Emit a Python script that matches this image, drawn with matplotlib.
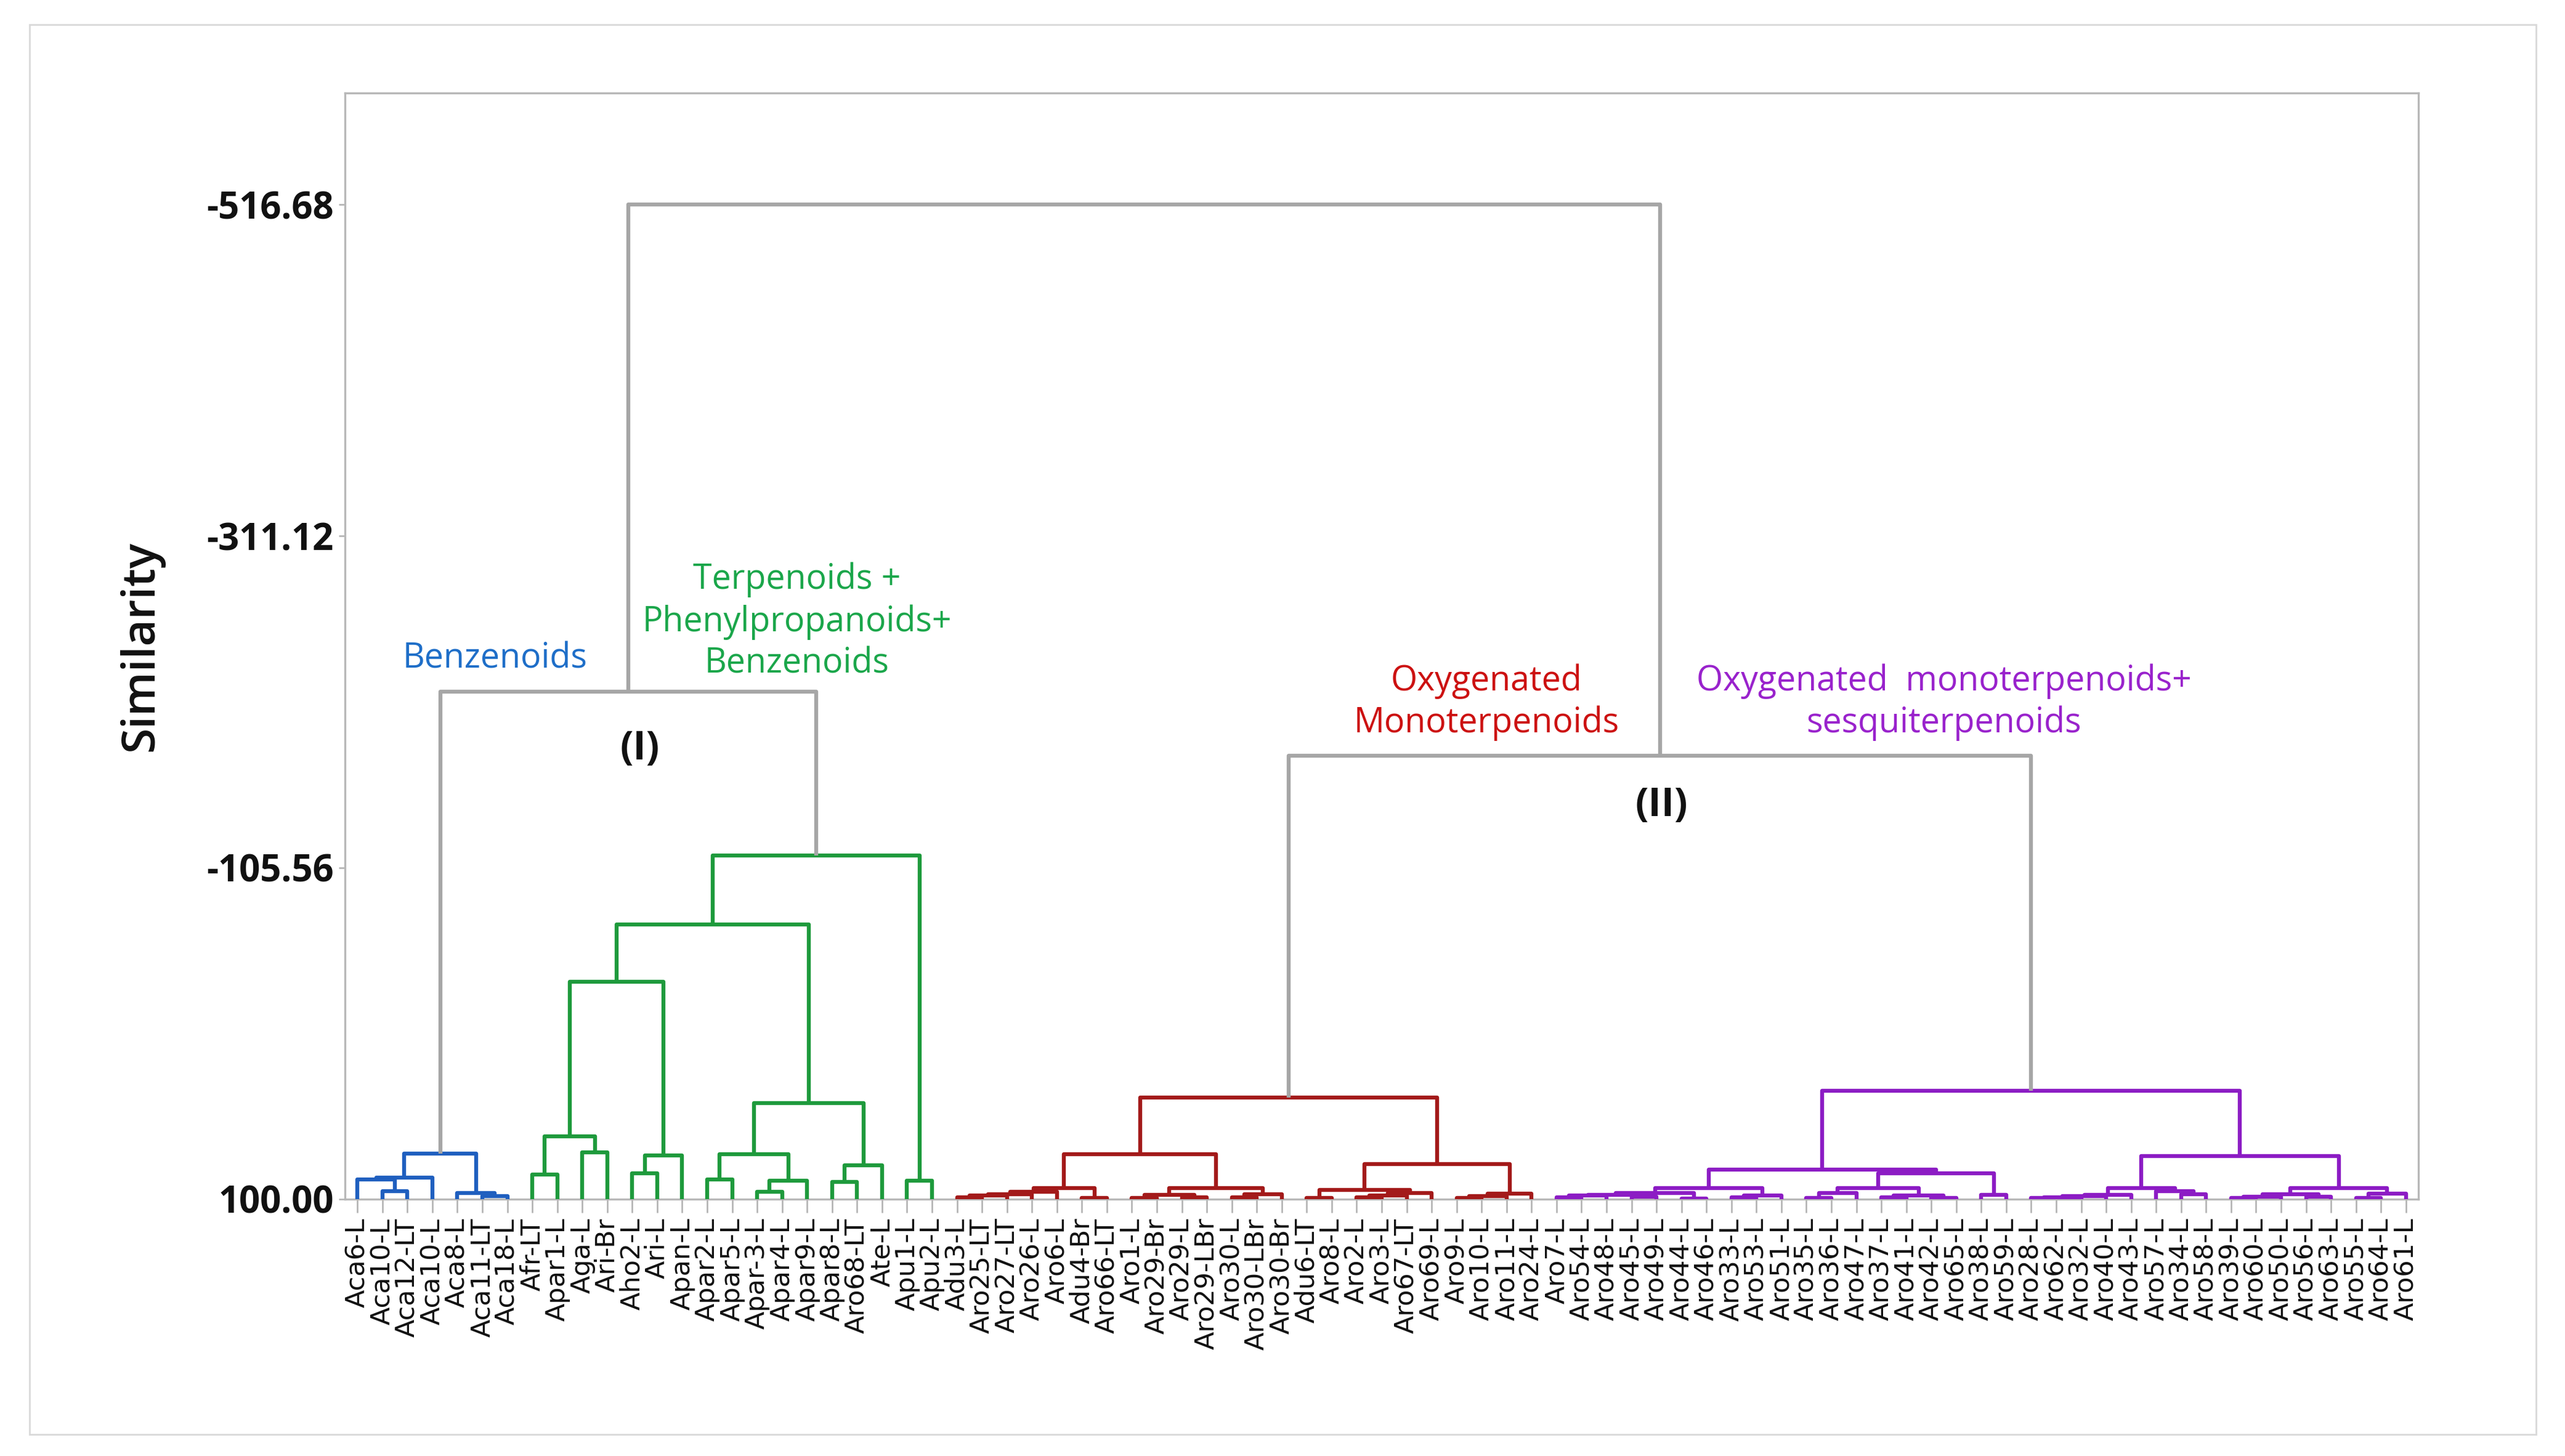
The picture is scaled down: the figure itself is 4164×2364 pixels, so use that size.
import matplotlib
matplotlib.use("Agg")
import matplotlib.pyplot as plt
from matplotlib.patches import Rectangle

# ---------------- data ----------------
leaf_labels = [
    "Aca6-L", "Aca10-L", "Aca12-LT", "Aca10-L", "Aca8-L", "Aca11-LT", "Aca18-L",
    "Afr-LT", "Apar1-L", "Aga-L", "Ari-Br", "Aho2-L", "Ari-L", "Apan-L", "Apar2-L",
    "Apar5-L", "Apar-3-L", "Apar4-L", "Apar9-L", "Apar8-L", "Aro68-LT", "Ate-L",
    "Apu1-L", "Apu2-L",
    "Adu3-L", "Aro25-LT", "Aro27-LT", "Aro26-L", "Aro6-L", "Adu4-Br", "Aro66-LT",
    "Aro1-L", "Aro29-Br", "Aro29-L", "Aro29-LBr", "Aro30-L", "Aro30-LBr", "Aro30-Br",
    "Adu6-LT", "Aro8-L", "Aro2-L", "Aro3-L", "Aro67-LT", "Aro69-L", "Aro9-L",
    "Aro10-L", "Aro11-L", "Aro24-L",
    "Aro7-L", "Aro54-L", "Aro48-L", "Aro45-L", "Aro49-L", "Aro44-L", "Aro46-L",
    "Aro33-L", "Aro53-L", "Aro51-L", "Aro35-L", "Aro36-L", "Aro47-L", "Aro37-L",
    "Aro41-L", "Aro42-L", "Aro65-L", "Aro38-L", "Aro59-L", "Aro28-L", "Aro62-L",
    "Aro32-L", "Aro40-L", "Aro43-L", "Aro57-L", "Aro34-L", "Aro58-L", "Aro39-L",
    "Aro60-L", "Aro50-L", "Aro56-L", "Aro63-L", "Aro55-L", "Aro64-L", "Aro61-L",
]

# merges: (node, left child, right child, similarity); ints are leaf indices
blue_merges = [
    ("b1", 1, 2, 94.9), ("b2", 0, "b1", 87.9), ("b3", "b2", 3, 86.7),
    ("b4", 5, 6, 98.1), ("b5", 4, "b4", 96.2), ("blue", "b3", "b5", 71.7),
]
green_merges = [
    ("g1", 7, 8, 84.7), ("g2", 9, 10, 70.8), ("g3", "g1", "g2", 61.2),
    ("g4", 11, 12, 84.1), ("g5", "g4", 13, 72.7), ("g6", "g3", "g5", -35.0),
    ("g7", 14, 15, 87.9), ("g8", 16, 17, 95.5), ("g9", "g8", 18, 88.6),
    ("g10", "g7", "g9", 72.0), ("g11", 19, 20, 89.2), ("g12", "g11", 21, 79.0),
    ("g13", "g10", "g12", 40.3), ("g14", "g6", "g13", -70.5),
    ("g15", 22, 23, 88.6), ("green", "g14", "g15", -113.1),
]
red_merges = [
    ("r1", 24, 25, 98.9), ("r2", "r1", 26, 97.6), ("r3", "r2", 27, 96.8),
    ("r4", "r3", 28, 95.5), ("r5", 29, 30, 99.2), ("r6", "r4", "r5", 93.0),
    ("r7", 31, 32, 99.4), ("r8", 33, 34, 99.0), ("r9", "r7", "r8", 97.5),
    ("r10", 35, 36, 98.8), ("r11", "r10", 37, 97.0), ("r12", "r9", "r11", 93.0),
    ("r13", "r6", "r12", 72.0), ("r14", 38, 39, 99.2), ("r15", 40, 41, 99.0),
    ("r16", "r15", 42, 97.8), ("r17", "r16", 43, 96.0), ("r18", "r14", "r17", 94.3),
    ("r19", 44, 45, 99.4), ("r20", "r19", 46, 98.1), ("r21", "r20", 47, 96.6),
    ("r22", "r18", "r21", 78.4), ("red", "r13", "r22", 37.1),
]
purple_merges = [
    ("p1", 48, 49, 98.8), ("p2", "p1", 50, 97.8), ("p3", 51, 52, 98.6),
    ("p4", "p2", "p3", 97.2), ("p5", 53, 54, 99.6), ("p6", "p4", "p5", 96.2),
    ("p7", 55, 56, 98.7), ("p8", "p7", 57, 97.6), ("p9", "p6", "p8", 93.0),
    ("p10", 58, 59, 99.3), ("p11", "p10", 60, 96.2), ("p12", 61, 62, 99.0),
    ("p13", 63, 64, 99.4), ("p14", "p12", "p13", 97.8), ("p15", "p11", "p14", 93.0),
    ("p16", 65, 66, 97.3), ("p17", "p15", "p16", 84.1), ("p18", "p9", "p17", 81.6),
    ("p19", 67, 68, 99.4), ("p20", "p19", 69, 99.0), ("p21", "p20", 70, 98.2),
    ("p22", "p21", 71, 97.4), ("p23", 73, 74, 96.8), ("p24", 72, "p23", 95.0),
    ("p25", "p22", "p24", 93.0), ("p26", 75, 76, 99.4), ("p27", "p26", 77, 98.3),
    ("p28", 78, 79, 98.6), ("p29", "p27", "p28", 97.0), ("p30", 80, 81, 99.2),
    ("p31", "p30", 82, 96.7), ("p32", "p29", "p31", 93.0), ("p33", "p25", "p32", 73.3),
    ("purple", "p18", "p33", 32.6),
]
top_merges = [
    ("I", "blue", "green", -214.5),
    ("II", "red", "purple", -175.0),
    ("root", "I", "II", -516.68),
]

y_ticks = [-516.68, -311.12, -105.56, 100.00]
y_top = -585.9

# ---------------- style ----------------
c_blue, c_green, c_red, c_purple, c_grey = "#1f5fbf", "#1e9a3c", "#a31a1a", "#8c1cc4", "#a6a6a6"

W, H, DPI = 4164, 2364, 100
fig = plt.figure(figsize=(W / DPI, H / DPI), dpi=DPI)
fig.patch.set_facecolor("white")
ax = fig.add_axes([560 / W, 1 - 1947 / H, (3926 - 560) / W, (1947 - 151) / H])

fig.patches.append(Rectangle((48 / W, 1 - 2329 / H), (4117 - 48) / W, (2329 - 40) / H,
                             transform=fig.transFigure, fill=False,
                             ec="#d9d9d9", lw=2.0))

pos, hgt = {}, {}


def xy(node):
    if isinstance(node, int):
        return float(node), 100.0
    return pos[node], hgt[node]


for merges, col in [(blue_merges, c_blue), (green_merges, c_green),
                    (red_merges, c_red), (purple_merges, c_purple),
                    (top_merges, c_grey)]:
    for name, a, b, h in merges:
        xa, ya = xy(a)
        xb, yb = xy(b)
        ax.plot([xa, xa, xb, xb], [ya, h, h, yb], color=col, lw=4.6,
                solid_joinstyle="round", solid_capstyle="butt", zorder=3)
        pos[name] = (xa + xb) / 2
        hgt[name] = h

ax.set_xlim(-0.5, len(leaf_labels) - 0.5)
ax.set_ylim(100, y_top)

ax.set_xticks(range(len(leaf_labels)))
ax.set_xticklabels(leaf_labels, rotation=90, fontsize=31, family="DejaVu Sans",
                   color="#111111")
ax.tick_params(axis="x", length=16, width=1.8, color="#b0b0b0", pad=6)

ax.set_yticks(y_ticks)
ax.set_yticklabels([f"{v:.2f}" for v in y_ticks], fontsize=43,
                   family="Open Sans", fontweight="bold", color="#111111")
ax.tick_params(axis="y", length=7, width=1.8, color="#b0b0b0", pad=6)

for s in ax.spines.values():
    s.set_color("#b8b8b8")
    s.set_linewidth(2.4)

ax.set_ylabel("Similarity", fontsize=54, family="Open Sans", fontweight="semibold",
              color="#111111", labelpad=50)

ax.text(5.5, -235, "Benzenoids", color="#1e6ec8", fontsize=40,
        family="Open Sans", ha="center", va="center")
ax.text(17.6, -258, "Terpenoids +\nPhenylpropanoids+\nBenzenoids", color="#1aa64a",
        fontsize=40, family="Open Sans", ha="center", va="center", linespacing=1.25)
ax.text(11.3, -179, "(I)", fontsize=46, fontweight="bold", family="Open Sans",
        ha="center", va="center", color="#111111")
ax.text(45.2, -208, "Oxygenated\nMonoterpenoids", color="#cc1111", fontsize=40,
        family="Open Sans", ha="center", va="center", linespacing=1.25)
ax.text(63.5, -208, "Oxygenated  monoterpenoids+\nsesquiterpenoids", color="#9922cc",
        fontsize=40, family="Open Sans", ha="center", va="center", linespacing=1.25)
ax.text(52.2, -144, "(II)", fontsize=46, fontweight="bold", family="Open Sans",
        ha="center", va="center", color="#111111")

fig.savefig("out.png", dpi=DPI, facecolor="white")
